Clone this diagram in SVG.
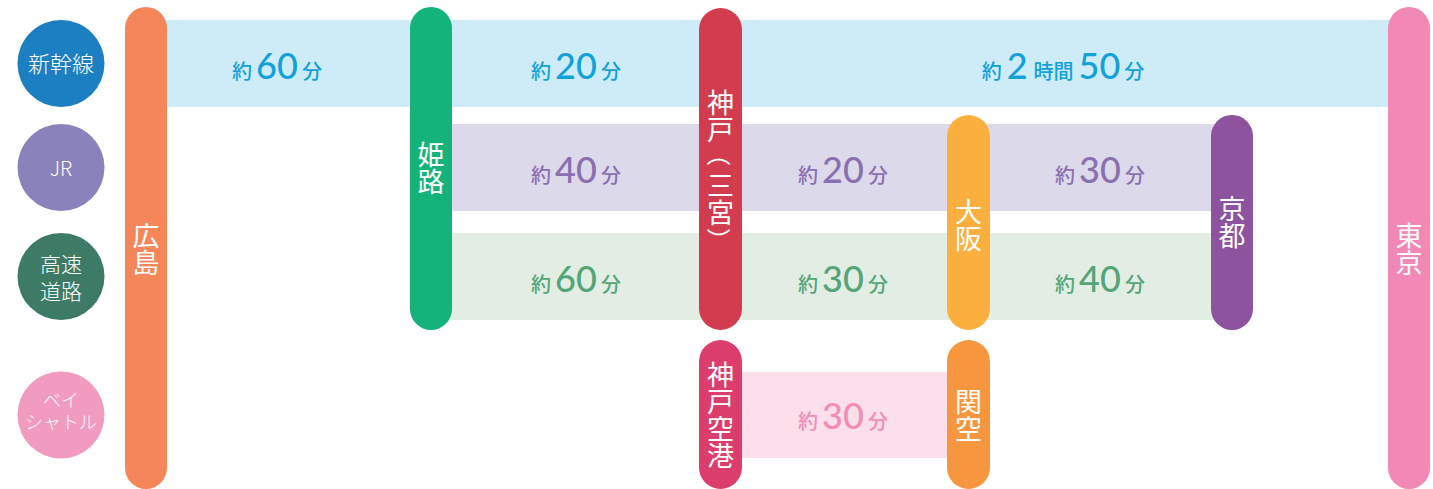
<svg xmlns="http://www.w3.org/2000/svg" width="1433" height="489" viewBox="0 0 1433 489">
<style>
.lbl{font-family:"Noto Sans CJK JP","Noto Sans",sans-serif;fill:#fff;text-anchor:middle;font-weight:300}
.st{font-family:"Noto Sans CJK JP",sans-serif;fill:#fff;font-size:27px;writing-mode:vertical-rl;text-anchor:middle}
.par{font-family:"Noto Sans CJK JP",sans-serif;fill:#fff;font-size:24px;text-anchor:middle;dominant-baseline:central}
.tm{font-family:"Noto Sans CJK JP",sans-serif;font-size:20px;text-anchor:middle;font-weight:500}
.num{font-family:Lato,"Open Sans",sans-serif;font-size:36px;font-weight:500}
.blue{fill:#13a1d9}.purple{fill:#8a6fb1}.green{fill:#54a577}.pink{fill:#f28db6}
</style>
<rect width="1433" height="489" fill="#fff"/>
<g id="connectors">
<rect x="160" y="20" width="1240" height="87" fill="#cdecf7"/>
<rect x="440" y="124" width="780" height="87" fill="#dcd9ea"/>
<rect x="440" y="233" width="780" height="87" fill="#e2ede4"/>
<rect x="730" y="372" width="230" height="86" fill="#fbdfea"/>
</g>
<g id="legend-shinkansen"><circle cx="61" cy="63.5" r="43.5" fill="#1c7fc1"/><text class="lbl" x="61" y="72" font-size="22">新幹線</text></g>
<g id="legend-jr"><circle cx="61" cy="167.5" r="43.5" fill="#8a83bb"/><text class="lbl" x="61" y="176" font-size="20">JR</text></g>
<g id="legend-highway"><circle cx="61" cy="276.5" r="43.5" fill="#3d7b66"/><text class="lbl" font-size="21"><tspan x="61" y="272">高速</tspan><tspan x="61" y="299">道路</tspan></text></g>
<g id="legend-bayshuttle"><circle cx="61" cy="415" r="43.5" fill="#f29bc0"/><text class="lbl" font-size="18"><tspan x="61" y="407">ベイ</tspan><tspan x="61" y="429">シャトル</tspan></text></g>

<g id="hiroshima"><rect x="125" y="7" width="42" height="482" rx="21" fill="#f5865a"/><text class="st" x="146" y="249">広島</text></g>
<g id="himeji"><rect x="410" y="7" width="42" height="323" rx="21" fill="#14b37a"/><text class="st" x="431" y="168">姫路</text></g>
<g id="kobe-sannomiya"><rect x="699" y="8" width="43" height="322" rx="21.5" fill="#d23c4f"/>
<text class="st" x="720.5" y="116" font-size="24">神戸</text>
<text class="par" x="720.5" y="154" transform="rotate(90 720.5 154)">（</text>
<text class="st" x="720.5" y="199" font-size="24">三宮</text>
<text class="par" x="720.5" y="240" transform="rotate(90 720.5 240)">）</text>
</g>
<g id="osaka"><rect x="947" y="115" width="43" height="215" rx="21.5" fill="#fbaf3f"/><text class="st" x="968.5" y="225">大阪</text></g>
<g id="kyoto"><rect x="1211" y="115" width="42" height="215" rx="21" fill="#8d539f"/><text class="st" x="1232" y="222">京都</text></g>
<g id="tokyo"><rect x="1388" y="7" width="42" height="482" rx="21" fill="#f188b5"/><text class="st" x="1409" y="249">東京</text></g>
<g id="kobe-airport"><rect x="699" y="340" width="43" height="149" rx="21.5" fill="#db3d6d"/><text class="st" x="720.5" y="415">神戸空港</text></g>
<g id="kansai-airport"><rect x="947" y="340" width="43" height="149" rx="21.5" fill="#f6963e"/><text class="st" x="968.5" y="415">関空</text></g>

<g id="times">
<text class="tm blue" x="277" y="79">約<tspan class="num" dx="4">60</tspan><tspan dx="4">分</tspan></text>
<text class="tm blue" x="576" y="79">約<tspan class="num" dx="4">20</tspan><tspan dx="4">分</tspan></text>
<text class="tm blue" x="1063" y="79">約<tspan class="num" dx="5">2</tspan><tspan dx="6">時間</tspan><tspan class="num" dx="5">50</tspan><tspan dx="4">分</tspan></text>
<text class="tm purple" x="576" y="183">約<tspan class="num" dx="4">40</tspan><tspan dx="4">分</tspan></text>
<text class="tm purple" x="843" y="183">約<tspan class="num" dx="4">20</tspan><tspan dx="4">分</tspan></text>
<text class="tm purple" x="1100" y="183">約<tspan class="num" dx="4">30</tspan><tspan dx="4">分</tspan></text>
<text class="tm green" x="576" y="292">約<tspan class="num" dx="4">60</tspan><tspan dx="4">分</tspan></text>
<text class="tm green" x="843" y="292">約<tspan class="num" dx="4">30</tspan><tspan dx="4">分</tspan></text>
<text class="tm green" x="1100" y="292">約<tspan class="num" dx="4">40</tspan><tspan dx="4">分</tspan></text>
<text class="tm pink" x="843" y="429">約<tspan class="num" dx="4">30</tspan><tspan dx="4">分</tspan></text>
</g>
</svg>
